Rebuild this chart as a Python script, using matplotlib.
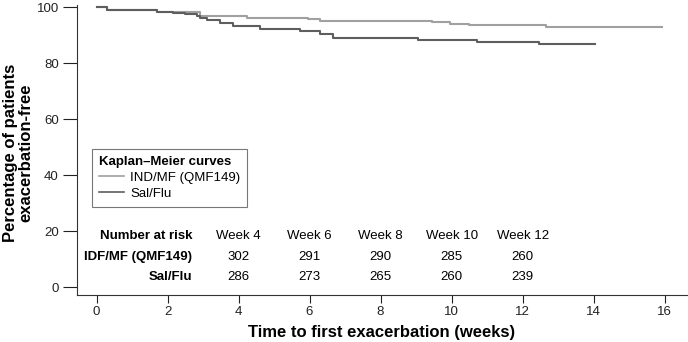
import matplotlib
matplotlib.use("Agg")
import matplotlib.pyplot as plt
from matplotlib.lines import Line2D

# Kaplan-Meier steps (weeks, % exacerbation-free)
ind_t = [0, 0.29, 1.31, 1.70, 2.92, 4.23, 5.96, 6.30, 9.44, 9.96, 10.49, 12.65, 15.92]
ind_s = [100, 99.2, 98.9, 98.4, 96.8, 96.3, 95.7, 95.0, 94.6, 94.1, 93.5, 92.9, 92.9]

sal_t = [0, 0.29, 1.31, 1.70, 2.15, 2.49, 2.82, 2.92, 3.10, 3.48, 3.85,
         4.61, 5.73, 6.30, 6.66, 9.06, 10.72, 12.46, 14.04]
sal_s = [100, 99.2, 98.9, 98.5, 97.9, 97.5, 96.9, 96.2, 95.6, 94.5, 93.4,
         92.4, 91.6, 90.3, 89.2, 88.2, 87.6, 86.9, 86.9]

risk_weeks = [4, 6, 8, 10, 12]
risk_ind = [302, 291, 290, 285, 260]
risk_sal = [286, 273, 265, 260, 239]

LIGHT = "#a0a0a0"
DARK = "#5e5e5e"
FS = 9.5

plt.rcParams["font.family"] = ["Liberation Sans", "DejaVu Sans"]

fig = plt.figure(figsize=(6.88, 3.42), dpi=100)
ax = fig.add_axes([0.1119, 0.1374, 0.8866, 0.8494])

ax.step(ind_t, ind_s, where="post", color=LIGHT, lw=1.5)
ax.step(sal_t, sal_s, where="post", color=DARK, lw=1.5)

ax.set_xlim(-0.55, 16.63)
ax.set_ylim(-2.86, 101)
ax.set_xticks(range(0, 17, 2))
ax.set_yticks(range(0, 101, 20))
for side in ("top", "right"):
    ax.spines[side].set_visible(False)
for side in ("left", "bottom"):
    ax.spines[side].set_color("#333333")
ax.tick_params(labelsize=9.5, colors="#222222")
ax.tick_params(axis="x", direction="out", length=6, pad=2)
ax.tick_params(axis="y", direction="out", length=10, pad=3)

ax.set_xlabel("Time to first exacerbation (weeks)", fontsize=12,
              fontweight="bold", va="top")
ax.xaxis.set_label_coords(0.5, -0.103)
ax.set_ylabel("Percentage of patients\nexacerbation-free", fontsize=12,
              fontweight="bold", linespacing=1.0)
ax.yaxis.set_label_coords(-0.072, 0.49)

handles = [
    Line2D([], [], color=LIGHT, lw=1.2),
    Line2D([], [], color=DARK, lw=1.2),
]
leg = ax.legend(handles, ["IND/MF (QMF149)", "Sal/Flu"],
                title="Kaplan\u2013Meier curves", loc="upper left",
                bbox_to_anchor=(0.0246, 0.5026), borderaxespad=0,
                fancybox=False, edgecolor="#555555", fontsize=FS,
                handlelength=1.9, handletextpad=0.5, labelspacing=0.3,
                borderpad=0.5, alignment="left")
leg.get_title().set_fontweight("bold")
leg.get_title().set_fontsize(FS)
leg.get_frame().set_linewidth(0.8)

# Number-at-risk table
lab_x = 2.69
rows = [(18.3, "Number at risk"), (10.8, "IDF/MF (QMF149)"), (3.6, "Sal/Flu")]
for y, txt in rows:
    ax.text(lab_x, y, txt, ha="right", va="center", fontsize=FS,
            fontweight="bold")
for w, a, b in zip(risk_weeks, risk_ind, risk_sal):
    ax.text(w, 18.3, f"Week {w}", ha="center", va="center", fontsize=FS)
    ax.text(w, 10.8, str(a), ha="center", va="center", fontsize=FS)
    ax.text(w, 3.6, str(b), ha="center", va="center", fontsize=FS)

fig.savefig("out.png", dpi=100)
